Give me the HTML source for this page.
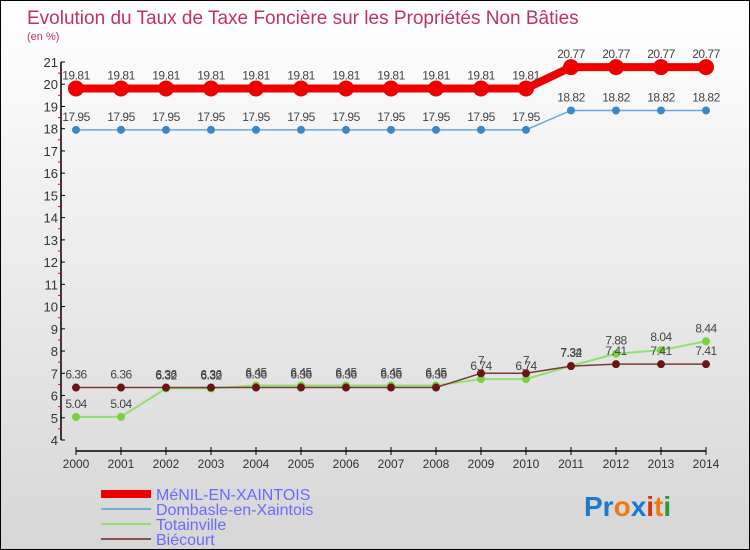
<!DOCTYPE html>
<html><head><meta charset="utf-8"><style>
body{margin:0}
#wrap{width:748px;height:548px;border:1px solid #000;background:linear-gradient(#fff,#d6d6d6);position:relative;overflow:hidden;font-family:"Liberation Sans",sans-serif}
</style></head><body>
<div id="wrap">
<svg id="chart" width="748" height="548">
<text x="26" y="23" font-size="19" fill="#c0335e">Evolution du Taux de Taxe Foncière sur les Propriétés Non Bâties</text>
<text x="26" y="39" font-size="11" fill="#c0335e">(en %)</text>
<g id="axes"></g><g id="series"></g>
<g>
<line x1="100" y1="493" x2="150" y2="493" stroke="#e00" stroke-width="8"/>
<text x="155" y="499" font-size="16" fill="#6a6aff">MéNIL-EN-XAINTOIS</text>
<line x1="100" y1="508" x2="150" y2="508" stroke="#7aabd0" stroke-width="2"/>
<text x="155" y="514" font-size="16" fill="#6a6aff">Dombasle-en-Xaintois</text>
<line x1="100" y1="523" x2="150" y2="523" stroke="#90e070" stroke-width="2"/>
<text x="155" y="529" font-size="16" fill="#6a6aff">Totainville</text>
<line x1="100" y1="538" x2="150" y2="538" stroke="#8a5050" stroke-width="2"/>
<text x="155" y="544" font-size="16" fill="#6a6aff">Biécourt</text>
</g>
<text x="583" y="515" font-size="28" font-weight="bold"><tspan fill="#1a7ad0">Pr</tspan><tspan fill="#f07a10">o</tspan><tspan fill="#1a7ad0">x</tspan><tspan fill="#e03010">i</tspan><tspan fill="#f07a10">t</tspan><tspan fill="#2a9a3a">i</tspan></text>
</svg>
</div>
<script>
const years=[2000,2001,2002,2003,2004,2005,2006,2007,2008,2009,2010,2011,2012,2013,2014];
const menil=[19.81,19.81,19.81,19.81,19.81,19.81,19.81,19.81,19.81,19.81,19.81,20.77,20.77,20.77,20.77];
const dombasle=[17.95,17.95,17.95,17.95,17.95,17.95,17.95,17.95,17.95,17.95,17.95,18.82,18.82,18.82,18.82];
const totainville=[5.04,5.04,6.32,6.32,6.45,6.45,6.45,6.45,6.45,6.74,6.74,7.34,7.88,8.04,8.44];
const biecourt=[6.36,6.36,6.36,6.36,6.36,6.36,6.36,6.36,6.36,7,7,7.32,7.41,7.41,7.41];
const yTicks=[4,5,6,7,8,9,10,11,12,13,14,15,16,17,18,19,20,21];
const NS='http://www.w3.org/2000/svg';
const X=i=>75+i*45;
const Y=v=>439-(v-4)*(378/17);
function mk(t,a,p){const e=document.createElementNS(NS,t);for(const k in a)e.setAttribute(k,a[k]);p.appendChild(e);return e;}
const ax=document.getElementById('axes');
let yl=mk('line',{x1:60,y1:Y(21),x2:60,y2:Y(4),stroke:'#000','stroke-width':1.5},ax);


let xl=mk('line',{x1:X(0),y1:450,x2:X(14),y2:450,stroke:'#000','stroke-width':1.5},ax);


yTicks.forEach(v=>{
 mk('line',{x1:60,y1:Y(v),x2:64,y2:Y(v),stroke:'#000'},ax);
 if(v<21)mk('line',{x1:57,y1:Y(v+0.5),x2:60,y2:Y(v+0.5),stroke:'#e00'},ax);
 const t=mk('text',{x:57,y:Y(v)+5,'font-size':13,fill:'#333','text-anchor':'end'},ax);t.textContent=v;
 
 
});
years.forEach((yr,i)=>{
 mk('line',{x1:X(i),y1:446,x2:X(i),y2:454,stroke:'#000'},ax);
 const t=mk('text',{x:X(i),y:467,'font-size':12,fill:'#333','text-anchor':'middle'},ax);t.textContent=yr;
 
 
});
const sg=document.getElementById('series');
function draw(name,data,color,w,r,dot){
 const g=mk('g',{},sg);
 
 
 mk('polyline',{points:data.map((v,i)=>X(i)+','+Y(v)).join(' '),fill:'none',stroke:color,'stroke-width':w},g);
 data.forEach((v,i)=>{
  const c=mk('circle',{cx:X(i),cy:Y(v),r:r,fill:dot},g);
  
  
  const t=mk('text',{x:X(i),y:Y(v)-9,'font-size':12,fill:'#444','text-anchor':'middle','letter-spacing':'-0.5'},g);t.textContent=v;
  
  
 });
}
draw('totainville',totainville,'#90e070',2,4,'#7ad040');
draw('biecourt',biecourt,'#7a3a3a',1.5,4,'#6a1515');
draw('dombasle',dombasle,'#6aa8dc',1.5,4,'#3a88c8');
draw('menil',menil,'#e00',8,8,'#e00');
</script>
</body></html>
